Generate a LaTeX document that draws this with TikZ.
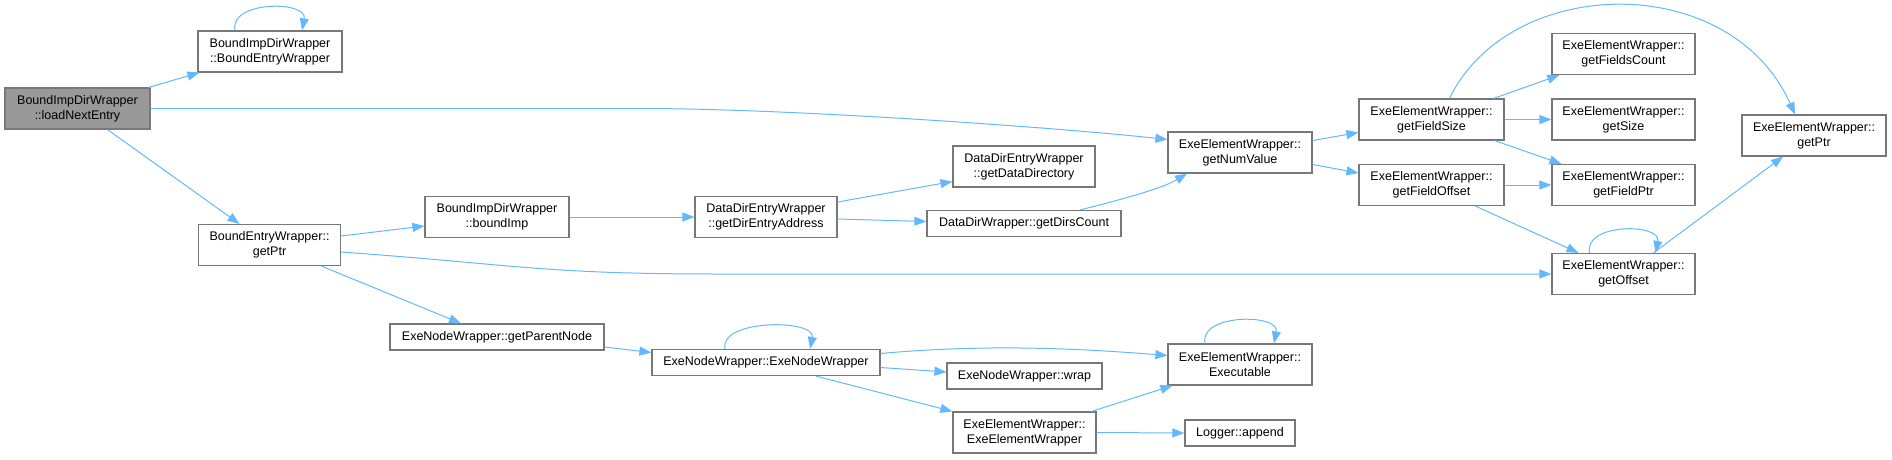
\documentclass[tikz,border=0pt]{standalone}
\usepackage{fontspec}
\setmainfont{Liberation Sans}
\usepackage{tikz}
\usetikzlibrary{arrows.meta,positioning,calc}

\definecolor{callblue}{HTML}{63B8FF}
\definecolor{boxline}{HTML}{787878}
\definecolor{rootfill}{HTML}{999999}

\begin{document}
\begin{tikzpicture}[
    x=1pt, y=-1pt,
    font=\fontsize{12.5}{15}\selectfont,
    fn/.style={draw=boxline, line width=1.2pt, fill=white, inner xsep=3pt, inner ysep=0pt,
      align=center, minimum height=41pt, minimum width=144pt},
    fn1/.style={fn, minimum height=26pt},
    root/.style={fn, fill=rootfill},
    call/.style={draw=callblue, line width=1pt, -{Triangle[length=12pt, width=9pt]}}
  ]
  \useasboundingbox (0,0) rectangle (1892,459);

  % functions
  \node[root, minimum width=145pt] (lne) at (77.5,108.5) {BoundImpDirWrapper\\::loadNextEntry};
  \node[fn] (bewctor) at (270,51.5) {BoundImpDirWrapper\\::BoundEntryWrapper};
  \node[fn, minimum width=142pt] (bgetptr) at (269.5,245) {BoundEntryWrapper::\\getPtr};
  \node[fn] (boundimp) at (497,217) {BoundImpDirWrapper\\::boundImp};
  \node[fn1, minimum width=214pt] (parentnode) at (497,337) {ExeNodeWrapper::getParentNode};
  \node[fn, minimum width=142pt] (direntry) at (766,217) {DataDirEntryWrapper\\::getDirEntryAddress};
  \node[fn, minimum width=142pt] (datadir) at (1024,166.5) {DataDirEntryWrapper\\::getDataDirectory};
  \node[fn1, minimum width=194pt] (dirscount) at (1024,223.5) {DataDirWrapper::getDirsCount};
  \node[fn] (numvalue) at (1240,152.5) {ExeElementWrapper::\\getNumValue};
  \node[fn1, minimum width=228pt] (nodector) at (766,362.5) {ExeNodeWrapper::ExeNodeWrapper};
  \node[fn1, minimum width=155pt] (wrap) at (1024.5,376) {ExeNodeWrapper::wrap};
  \node[fn, minimum width=143pt] (elemctor) at (1024.5,432.5) {ExeElementWrapper::\\ExeElementWrapper};
  \node[fn] (executable) at (1240,364.5) {ExeElementWrapper::\\Executable};
  \node[fn1, minimum width=110pt] (append) at (1240,433) {Logger::append};
  \node[fn, minimum width=145pt] (fieldsize) at (1431.5,119.5) {ExeElementWrapper::\\getFieldSize};
  \node[fn, minimum width=145pt] (fieldoffset) at (1431.5,185) {ExeElementWrapper::\\getFieldOffset};
  \node[fn, minimum width=143pt] (fieldscount) at (1623.5,54) {ExeElementWrapper::\\getFieldsCount};
  \node[fn, minimum width=143pt] (getsize) at (1623.5,119.5) {ExeElementWrapper::\\getSize};
  \node[fn, minimum width=143pt] (fieldptr) at (1623.5,185) {ExeElementWrapper::\\getFieldPtr};
  \node[fn, minimum width=143pt] (offset) at (1623.5,274) {ExeElementWrapper::\\getOffset};
  \node[fn] (eptr) at (1814,135.5) {ExeElementWrapper::\\getPtr};

  % calls
  \draw[call] ($(lne.north east)+(-2,0)$) -- ($(bewctor.south west)+(2,0)$);
  \draw[call] ($(bewctor.north)+(-35,0)$) .. controls +(-6,-30) and +(6,-30) .. ($(bewctor.north)+(32,0)$);
  \draw[call] (lne.east) -- ++(490,0) .. controls +(150,0) and +(-110,-12) .. ($(numvalue.west)+(0,-13)$);
  \draw[call] ($(lne.south)+(30,0)$) -- ($(bgetptr.north)+(-30,0)$);
  \draw[call] ($(bgetptr.east)+(0,-9)$) -- ($(boundimp.west)+(0,9)$);
  \draw[call] ($(bgetptr.east)+(0,7)$) .. controls +(180,13) and +(-180,0) .. ($(offset.west)+(-830,0)$) -- (offset.west);
  \draw[call] ($(bgetptr.south)+(52,0)$) -- ($(parentnode.north)+(-36,0)$);
  \draw[call] (boundimp.east) -- (direntry.west);
  \draw[call] ($(direntry.east)+(0,-15)$) -- ($(datadir.west)+(0,15)$);
  \draw[call] ($(direntry.east)+(0,2)$) -- ($(dirscount.west)+(0,-2)$);
  \draw[call] ($(dirscount.north)+(56,0)$) .. controls +(40,-10) and +(-25,15) .. ($(numvalue.south)+(-53,0)$);
  \draw[call] ($(numvalue.east)+(0,-12)$) -- ($(fieldsize.west)+(0,13)$);
  \draw[call] ($(numvalue.east)+(0,12)$) -- ($(fieldoffset.west)+(0,-12)$);
  \draw[call] ($(fieldsize.north)+(18,0)$) .. controls +(60,-124) and +(-65,-145) .. ($(eptr.north)+(-19,0)$);
  \draw[call] ($(fieldsize.north east)+(-11,0)$) -- ($(fieldscount.south west)+(8,0)$);
  \draw[call] (fieldsize.east) -- (getsize.west);
  \draw[call] ($(fieldsize.south east)+(-10,0)$) -- ($(fieldptr.north west)+(10,0)$);
  \draw[call] (fieldoffset.east) -- (fieldptr.west);
  \draw[call] ($(fieldoffset.south)+(44,0)$) -- ($(offset.north)+(-45,0)$);
  \draw[call] ($(offset.north)+(-34,0)$) .. controls +(-6,-30) and +(6,-30) .. ($(offset.north)+(32,0)$);
  \draw[call] ($(offset.north)+(30,0)$) -- ($(eptr.south)+(-31,0)$);
  \draw[call] ($(parentnode.east)+(0,10)$) -- ($(nodector.west)+(0,-10)$);
  \draw[call] ($(nodector.north)+(-41,0)$) .. controls +(-6,-30) and +(6,-30) .. ($(nodector.north)+(44,0)$);
  \draw[call] ($(nodector.east)+(0,-9)$) .. controls +(100,-9) and +(-100,-8) .. ($(executable.west)+(0,-9)$);
  \draw[call] ($(nodector.east)+(0,5)$) -- ($(wrap.west)+(0,-4)$);
  \draw[call] ($(nodector.south)+(50,0)$) -- (elemctor.north west);
  \draw[call] ($(executable.north)+(-35,0)$) .. controls +(-6,-30) and +(6,-30) .. ($(executable.north)+(34,0)$);
  \draw[call] ($(elemctor.north east)+(-5,0)$) -- ($(executable.south west)+(5,0)$);
  \draw[call] (elemctor.east) -- (append.west);
\end{tikzpicture}
\end{document}
